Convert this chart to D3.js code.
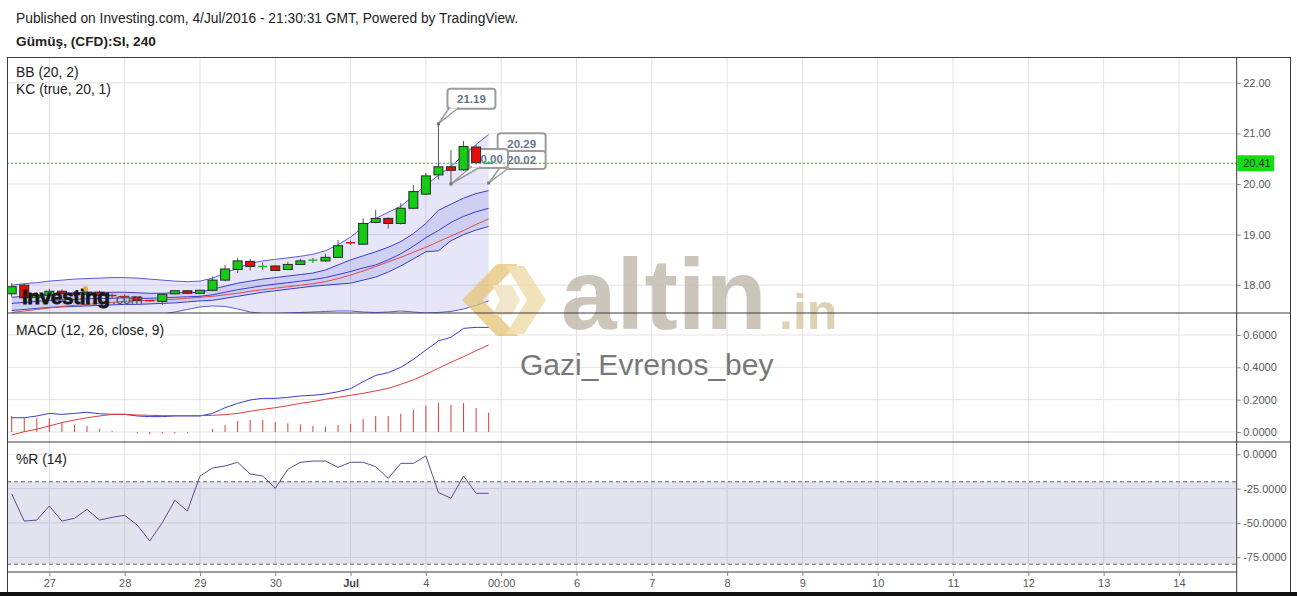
<!DOCTYPE html>
<html><head><meta charset="utf-8">
<script src="https://cdn.jsdelivr.net/npm/d3@7"></script>
<style>
body{margin:0;background:#fff;}
svg{display:block;font-family:"Liberation Sans",Arial,sans-serif;}
</style>
</head><body>
<svg id="c" width="1297" height="596"></svg>
<script>
// ---------------- DATA ----------------
const openP  = [17.83,18.00,17.76,17.80,17.88,17.84,17.82,17.86,17.80,17.79,17.76,17.70,17.68,17.83,17.89,17.84,17.90,18.10,18.31,18.47,18.36,18.38,18.31,18.41,18.49,18.48,18.55,18.85,18.81,19.24,19.32,19.22,19.52,19.80,20.18,20.34,20.28,20.73,20.41];
const highP  = [18.04,18.03,17.86,17.93,17.92,17.88,17.90,17.89,17.84,17.82,17.78,17.71,17.83,17.90,17.90,17.91,18.17,18.40,18.54,18.52,18.45,18.39,18.46,18.52,18.54,18.62,18.89,18.88,19.32,19.49,19.34,19.62,19.98,20.22,21.19,20.67,20.85,20.77,20.42];
const lowP   = [17.77,17.72,17.72,17.76,17.80,17.78,17.78,17.76,17.74,17.72,17.68,17.68,17.61,17.82,17.83,17.83,17.88,18.08,18.24,18.29,18.30,18.28,18.30,18.40,18.44,18.46,18.54,18.80,18.80,19.22,19.12,19.20,19.50,19.78,20.09,20.00,20.26,20.38,20.40];
const closeP = [17.97,17.75,17.80,17.88,17.84,17.82,17.86,17.80,17.79,17.76,17.70,17.69,17.82,17.89,17.84,17.90,18.10,18.32,18.48,18.37,18.38,18.29,18.41,18.48,18.50,18.55,18.78,18.83,19.22,19.32,19.22,19.52,19.85,20.16,20.34,20.27,20.74,20.42,20.41];

const bbUpper = [18.00,18.03,18.05,18.08,18.10,18.12,18.13,18.14,18.15,18.15,18.14,18.12,18.10,18.08,18.07,18.08,18.14,18.24,18.34,18.43,18.48,18.51,18.54,18.57,18.61,18.68,18.80,18.95,19.15,19.32,19.44,19.56,19.76,19.98,20.17,20.35,20.57,20.78,20.98];
const bbBasis = [17.46,17.49,17.52,17.55,17.58,17.60,17.62,17.64,17.66,17.68,17.69,17.70,17.71,17.72,17.74,17.76,17.78,17.81,17.84,17.88,17.91,17.94,17.97,18.00,18.03,18.07,18.13,18.20,18.28,18.37,18.46,18.55,18.65,18.75,18.86,18.97,19.08,19.20,19.31];
const bbLower = [16.95,17.00,17.05,17.10,17.15,17.20,17.24,17.28,17.31,17.34,17.37,17.40,17.43,17.47,17.52,17.57,17.59,17.58,17.53,17.47,17.44,17.44,17.45,17.46,17.47,17.48,17.49,17.49,17.47,17.46,17.47,17.49,17.47,17.45,17.46,17.48,17.53,17.60,17.69];
const kcUpper = [17.76,17.78,17.80,17.82,17.84,17.85,17.86,17.86,17.86,17.86,17.85,17.84,17.84,17.85,17.85,17.86,17.92,17.98,18.04,18.08,18.12,18.15,18.18,18.21,18.24,18.30,18.40,18.50,18.58,18.66,18.75,18.86,19.02,19.22,19.48,19.60,19.72,19.81,19.87];
const kcMid   = [17.64,17.66,17.68,17.70,17.71,17.72,17.73,17.74,17.74,17.75,17.74,17.74,17.75,17.76,17.77,17.78,17.81,17.86,17.91,17.95,17.99,18.02,18.05,18.08,18.11,18.15,18.21,18.27,18.34,18.40,18.50,18.62,18.77,18.94,19.08,19.24,19.36,19.45,19.52];
const kcLower = [17.50,17.52,17.54,17.56,17.57,17.58,17.59,17.60,17.61,17.62,17.62,17.63,17.64,17.65,17.67,17.69,17.70,17.74,17.78,17.82,17.86,17.89,17.92,17.95,17.98,18.00,18.02,18.04,18.10,18.16,18.26,18.38,18.52,18.66,18.68,18.88,19.00,19.09,19.16];

const macdLine   = [0.088,0.088,0.099,0.115,0.109,0.115,0.122,0.113,0.109,0.109,0.099,0.095,0.095,0.099,0.099,0.099,0.115,0.150,0.177,0.198,0.208,0.208,0.214,0.223,0.227,0.235,0.249,0.268,0.311,0.350,0.367,0.400,0.449,0.507,0.563,0.586,0.641,0.647,0.647];
const macdSignal = [-0.019,0.002,0.017,0.037,0.058,0.074,0.088,0.099,0.109,0.109,0.105,0.103,0.101,0.101,0.101,0.101,0.103,0.107,0.115,0.128,0.140,0.150,0.163,0.177,0.188,0.202,0.214,0.227,0.239,0.254,0.270,0.295,0.322,0.357,0.394,0.431,0.466,0.503,0.538];
const macdHist   = [0.099,0.088,0.085,0.085,0.058,0.043,0.037,0.019,0.006,0.000,-0.008,-0.014,-0.008,-0.008,-0.006,0.000,0.019,0.043,0.068,0.074,0.074,0.062,0.054,0.047,0.037,0.033,0.043,0.052,0.080,0.099,0.099,0.113,0.138,0.163,0.181,0.167,0.179,0.148,0.120];

const williamsR = [-28.9,-48.6,-47.9,-37.6,-48.6,-46.6,-40.1,-47.9,-45.9,-44.4,-51.5,-63.1,-49.8,-33.5,-41.3,-15.8,-10.0,-8.5,-5.8,-14.3,-15.8,-24.8,-10.9,-5.8,-4.9,-4.9,-9.5,-5.8,-5.8,-9.0,-17.5,-6.6,-6.6,-1.2,-27.9,-32.0,-15.8,-28.4,-28.4];

const dayTickBars   = [3,9,15,21,27,33,39,45,51,57,63,69,75,81,87,93];
const dayTickLabels = ["27","28","29","30","Jul","4","00:00","6","7","8","9","10","11","12","13","14"];
const priceTicks = [18,19,20,21,22];
const macdTicks  = [0,0.2,0.4,0.6];
const wrTicks    = [0,-25,-50,-75];
const wrBand     = [-20,-80];
const lastPrice  = 20.41;
const calloutValues = [21.19, 20.29, 20.02, 20.00];
const calloutBars   = [34, 38, 38, 35];

// ---------------- LAYOUT ----------------
const L = 7, R = 1236.7, OUT = 1290, TOP = 57, B1 = 313, B2 = 442, B3 = 572;
const FONT = '"Liberation Sans", Arial, sans-serif';
const svg = d3.select('#c');
svg.append('rect').attr('width',1297).attr('height',596).attr('fill','#fff');

const bars = d3.range(openP.length);
const x  = d3.scaleLinear().domain([-0.375, 97.6]).range([L, R]);
const yP = d3.scaleLinear().domain([17.45, 22.51]).range([B1, TOP]);
const yM = d3.scaleLinear().domain([-0.062, 0.736]).range([B2, B1]);
const yW = d3.scaleLinear().domain([-85.7, 8.96]).range([B3, B2]);

const loc = d3.formatLocale({decimal:".", thousands:",", grouping:[3], currency:["$",""], minus:"-"});
const f2 = loc.format(".2f"), f4 = loc.format(".4f");

const defs = svg.append('defs');
[['cMain',TOP,B1],['cMacd',B1,B2],['cWr',B2,B3]].forEach(([id,a,b])=>{
  defs.append('clipPath').attr('id',id).append('rect').attr('x',L).attr('y',a).attr('width',R-L).attr('height',b-a);
});

// ---------------- GRID ----------------
const grid = svg.append('g').attr('stroke','#e3e3e3').attr('stroke-width',1);
dayTickBars.forEach(b=>{
  grid.append('line').attr('x1',x(b)).attr('x2',x(b)).attr('y1',TOP).attr('y2',B3);
});
priceTicks.forEach(t=>grid.append('line').attr('x1',L).attr('x2',R).attr('y1',yP(t)).attr('y2',yP(t)));
macdTicks.forEach(t=>grid.append('line').attr('x1',L).attr('x2',R).attr('y1',yM(t)).attr('y2',yM(t)));
wrTicks.forEach(t=>grid.append('line').attr('x1',L).attr('x2',R).attr('y1',yW(t)).attr('y2',yW(t)));

// ---------------- MAIN PANE: bands ----------------
const gMain = svg.append('g').attr('clip-path','url(#cMain)');
const areaOf = (up, lo) => d3.area().x(i=>x(i)).y0(i=>yP(lo[i])).y1(i=>yP(up[i]));
const lineOf = (arr, ys) => d3.line().x(i=>x(i)).y(i=>ys(arr[i]));
gMain.append('path').datum(bars).attr('d',areaOf(bbUpper,bbLower)).attr('fill','#3434c4').attr('fill-opacity',0.12);
gMain.append('path').datum(bars).attr('d',areaOf(kcUpper,kcLower)).attr('fill','#3434c4').attr('fill-opacity',0.13);
[[bbUpper,'#5a5ae0'],[bbLower,'#5a5ae0'],[kcUpper,'#3c3cd0'],[kcMid,'#3c3cd0'],[kcLower,'#3c3cd0'],[bbBasis,'#e04a4a']].forEach(([arr,col])=>{
  gMain.append('path').datum(bars).attr('d',lineOf(arr,yP)).attr('fill','none').attr('stroke',col).attr('stroke-width',1);
});

// ---------------- %R PANE ----------------
const gWr = svg.append('g').attr('clip-path','url(#cWr)');
gWr.append('rect').attr('x',L).attr('width',R-L).attr('y',yW(wrBand[0])).attr('height',yW(wrBand[1])-yW(wrBand[0]))
  .attr('fill','#6464aa').attr('fill-opacity',0.18);
wrBand.forEach(v=>gWr.append('line').attr('x1',L).attr('x2',R).attr('y1',yW(v)).attr('y2',yW(v))
  .attr('stroke','#666').attr('stroke-dasharray','4,3').attr('stroke-width',1));
gWr.append('path').datum(bars).attr('d',lineOf(williamsR,yW)).attr('fill','none').attr('stroke','#50508c').attr('stroke-width',1);

// ---------------- MACD PANE ----------------
const gMacd = svg.append('g').attr('clip-path','url(#cMacd)');
bars.forEach(i=>{
  gMacd.append('line').attr('x1',x(i)).attr('x2',x(i)).attr('y1',yM(0)).attr('y2',yM(macdHist[i]))
    .attr('stroke','#e03c3c').attr('stroke-width',1);
});
gMacd.append('path').datum(bars).attr('d',lineOf(macdLine,yM)).attr('fill','none').attr('stroke','#3a3ad6').attr('stroke-width',1);
gMacd.append('path').datum(bars).attr('d',lineOf(macdSignal,yM)).attr('fill','none').attr('stroke','#e03c3c').attr('stroke-width',1);

// ---------------- WATERMARK altin.in ----------------
const wm = svg.append('g').attr('opacity',0.85);
wm.append('polygon').attr('points','462,300 497,264 518,264 483,300 518,336 497,336').attr('fill','#e6c271').attr('opacity',0.85);
wm.append('polygon').attr('points','506,266 524,266 546,300 524,334 506,334 527,300').attr('fill','#eed9a6').attr('opacity',0.9);
wm.append('polygon').attr('points','492,285 512,285 520,300 512,315 492,315 500,300').attr('fill','#f1e2bb').attr('opacity',0.9);
wm.append('text').attr('x',561).attr('y',329).attr('font-size',100).attr('font-weight','bold').attr('font-family',FONT)
  .attr('fill','#c2bbaf').text('altin');
wm.append('text').attr('x',779).attr('y',329).attr('font-size',50).attr('font-weight','bold').attr('font-family',FONT)
  .attr('fill','#d8cba8').text('.in');
svg.append('text').attr('x',520).attr('y',375).attr('font-size',30).attr('font-family',FONT)
  .attr('fill','#787878').text('Gazi_Evrenos_bey');

// ---------------- CALLOUTS ----------------
const calloutLayout = [
  {dx:9, dy:-35, w:48, h:20},
  {dx:9, dy:-36, w:48, h:21},
  {dx:9, dy:-32, w:48, h:18},
  {dx:18,dy:-35, w:39, h:19}
];
const gCall = svg.append('g');
calloutValues.forEach((v,k)=>{
  const px = x(calloutBars[k]), py = yP(v), lay = calloutLayout[k];
  const bx = px+lay.dx, by = py+lay.dy;
  const g = gCall.append('g');
  g.append('rect').attr('x',bx).attr('y',by).attr('width',lay.w).attr('height',lay.h).attr('rx',3)
    .attr('fill','#fff').attr('stroke','#9c9c9c').attr('stroke-width',2);
  if (k !== 1) {
    g.append('polygon').attr('points',`${bx+2},${by+lay.h-1} ${bx+11},${by+lay.h-1} ${px},${py}`)
      .attr('fill','#fff').attr('stroke','#9c9c9c').attr('stroke-width',1.5).attr('stroke-linejoin','round');
    g.append('line').attr('x1',bx+3).attr('x2',bx+10).attr('y1',by+lay.h-1.5).attr('y2',by+lay.h-1.5).attr('stroke','#fff').attr('stroke-width',2);
    g.append('rect').attr('x',px-1.5).attr('y',py-1.5).attr('width',3).attr('height',3).attr('fill','#777');
  }
  g.append('text').attr('x',bx+lay.w/2).attr('y',by+lay.h/2).attr('dy','0.35em').attr('text-anchor','middle')
    .attr('font-size',11.5).attr('font-weight','bold').attr('font-family',FONT).attr('fill','#66758a').text(f2(v));
});

// ---------------- CANDLES ----------------
const gC = svg.append('g').attr('clip-path','url(#cMain)');
bars.forEach(i=>{
  const o=openP[i], c=closeP[i], up = c>=o;
  const col = up ? '#14cc14' : '#e80c0c';
  gC.append('line').attr('x1',x(i)).attr('x2',x(i)).attr('y1',yP(highP[i])).attr('y2',yP(lowP[i]))
    .attr('stroke','#555').attr('stroke-width',1);
  const top = yP(Math.max(o,c)), bot = yP(Math.min(o,c));
  if (bot-top < 1.6) {
    gC.append('line').attr('x1',x(i)-4.5).attr('x2',x(i)+4.5).attr('y1',(top+bot)/2).attr('y2',(top+bot)/2)
      .attr('stroke',col).attr('stroke-width',1.5);
  } else {
    gC.append('rect').attr('x',x(i)-4.5).attr('y',top).attr('width',9).attr('height',bot-top)
      .attr('fill',col).attr('stroke','#2a2a2a').attr('stroke-width',1);
  }
});

// ---------------- Investing.com logo ----------------
svg.append('text').attr('x',22).attr('y',304).attr('font-size',21).attr('font-weight','bold').attr('font-family',FONT)
  .attr('fill','#161616').attr('stroke','#161616').attr('stroke-width',0.8).attr('letter-spacing',-0.5).text('Investing');
svg.append('circle').attr('cx',85.5).attr('cy',288.5).attr('r',2.4).attr('fill','#f2a72c');
svg.append('text').attr('x',112).attr('y',304).attr('font-size',15).attr('font-family',FONT)
  .attr('fill','#555').attr('letter-spacing',-0.5).text('.com');

// ---------------- last price line ----------------
svg.append('line').attr('x1',L).attr('x2',R).attr('y1',yP(lastPrice)).attr('y2',yP(lastPrice))
  .attr('stroke','#1bb81b').attr('stroke-width',1).attr('stroke-dasharray','2,2');

// ---------------- BORDERS ----------------
const bd = svg.append('g').attr('stroke','#3a3a3a').attr('stroke-width',1);
bd.append('line').attr('x1',L).attr('x2',OUT).attr('y1',TOP+0.5).attr('y2',TOP+0.5);
bd.append('line').attr('x1',L+0.5).attr('x2',L+0.5).attr('y1',TOP).attr('y2',596);
bd.append('line').attr('x1',OUT+0.5).attr('x2',OUT+0.5).attr('y1',TOP).attr('y2',596);
bd.append('line').attr('x1',R).attr('x2',R).attr('y1',TOP).attr('y2',592);
bd.append('line').attr('x1',L).attr('x2',OUT).attr('y1',B1).attr('y2',B1);
bd.append('line').attr('x1',L).attr('x2',OUT).attr('y1',B2).attr('y2',B2);
bd.append('line').attr('x1',L).attr('x2',R).attr('y1',B3).attr('y2',B3);
svg.append('rect').attr('x',0).attr('y',592).attr('width',1297).attr('height',4).attr('fill','#111');

// ---------------- AXES ----------------
function styleAxis(g){
  g.attr('font-family',FONT).attr('font-size',11);
  g.select('.domain').remove();
  g.selectAll('.tick line').attr('stroke','#8a8a8a');
  g.selectAll('.tick text').attr('fill','#5a5a5a');
}
const ax1 = svg.append('g').attr('transform',`translate(${R},0)`)
  .call(d3.axisRight(yP).tickValues(priceTicks).tickFormat(f2).tickSize(4).tickPadding(2.5)); styleAxis(ax1);
const ax2 = svg.append('g').attr('transform',`translate(${R},0)`)
  .call(d3.axisRight(yM).tickValues(macdTicks).tickFormat(f4).tickSize(4).tickPadding(2.5)); styleAxis(ax2);
const ax3 = svg.append('g').attr('transform',`translate(${R},0)`)
  .call(d3.axisRight(yW).tickValues(wrTicks).tickFormat(f4).tickSize(4).tickPadding(2.5)); styleAxis(ax3);
const axX = svg.append('g').attr('transform',`translate(0,${B3})`)
  .call(d3.axisBottom(x).tickValues(dayTickBars).tickFormat((d,i)=>dayTickLabels[i]).tickSize(4).tickPadding(3)); styleAxis(axX);
axX.selectAll('.tick text').filter(d=>dayTickLabels[dayTickBars.indexOf(d)]==='Jul').attr('font-weight','bold').attr('fill','#444');

// price tag
const ty = yP(lastPrice);
svg.append('rect').attr('x',R+0.5).attr('y',ty-8).attr('width',37).attr('height',16).attr('fill','#14dd14');
svg.append('text').attr('x',R+6.5).attr('y',ty).attr('dy','0.35em').attr('font-size',11).attr('font-family',FONT)
  .attr('fill','#1e3a1e').text(f2(lastPrice));

// ---------------- TEXTS ----------------
const T = (tx,ty,s,opt={}) => svg.append('text').attr('x',tx).attr('y',ty).attr('font-family',FONT)
  .attr('font-size',opt.size||13).attr('font-weight',opt.bold?'bold':'normal').attr('fill',opt.fill||'#222').text(s);
T(16,22.5,'Published on Investing.com, 4/Jul/2016 - 21:30:31 GMT, Powered by TradingView.',{size:13.8});
T(16,46,'Gümüş, (CFD):SI, 240',{size:13.7,bold:true});
T(16,77,'BB (20, 2)',{size:13.9});
T(16,93.5,'KC (true, 20, 1)',{size:13.9});
T(16,334.5,'MACD (12, 26, close, 9)',{size:13.9});
T(16,463.5,'%R (14)',{size:13.9});
</script>
</body></html>
